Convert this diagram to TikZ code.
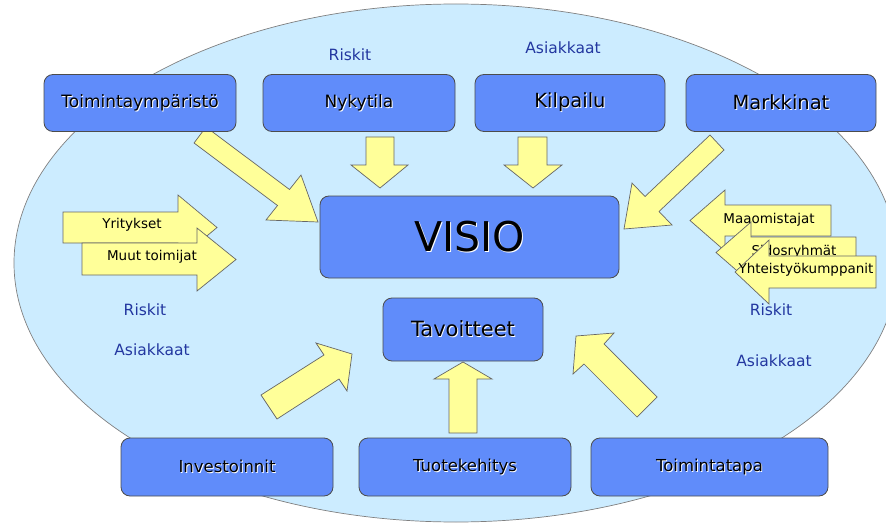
\documentclass[tikz,border=0pt]{standalone}
\usepackage{fontspec}
\setmainfont{DejaVu Sans}
\definecolor{boxblue}{RGB}{96,140,250}
\definecolor{skyfill}{RGB}{204,236,255}
\definecolor{pale}{RGB}{255,255,153}
\definecolor{labelblue}{RGB}{35,55,160}
% black text with a faint white offset copy behind it
\newcommand\haloed[1]{\makebox[0pt][l]{\hspace{0.9pt}\raisebox{-0.9pt}{\color{white}#1}}#1}
\begin{document}
\begin{tikzpicture}[x=1pt,y=-1pt,
  box/.style={draw=black!70, line width=0.8pt, fill=boxblue, rounded corners=9pt, inner sep=0pt},
  fat/.style={draw=black!60, line width=0.7pt, fill=pale, line join=miter},
  lbl/.style={text=labelblue, font=\fontsize{15.5}{18}\selectfont},
  tag/.style={font=\fontsize{13.5}{16}\selectfont, inner sep=0pt}]
\useasboundingbox (0,0) rectangle (886,524);
\begin{scope}
\clip (0,0) rectangle (886,524);
% background ellipse
\draw[draw=black!50, line width=0.7pt, fill=skyfill] (456,263) ellipse [x radius=442, y radius=259];

% broad yellow arrows
\draw[fat] (366,137) -- (394,137) -- (394,165) -- (408,165) -- (380,188) -- (351,165) -- (366,165) -- cycle;
\draw[fat] (518,137) -- (547,137) -- (547,165) -- (562,165) -- (533,188) -- (504,165) -- (518,165) -- cycle;
\draw[fat] (206,127) -- (289.5,189.5) -- (301,175) -- (318,222) -- (266,220) -- (277.5,205.5) -- (194,143) -- cycle;
\draw[fat] (710,135) -- (724,150) -- (659,211.5) -- (672,225) -- (624,229) -- (632,183) -- (645,196.5) -- cycle;
\draw[fat] (261,395) -- (324,355) -- (316,343) -- (352,354) -- (347,391) -- (339,379) -- (277,419) -- cycle;
\draw[fat] (576,336) -- (614,333) -- (604,344) -- (657,397) -- (637,417) -- (584,364) -- (573,374) -- cycle;
\draw[fat] (449,433) -- (449,379) -- (434,379) -- (463,362) -- (492,379) -- (477,379) -- (477,433) -- cycle;

% labelled arrows on the left
\draw[fat] (63,212) -- (178,212) -- (178,195) -- (217,227.5) -- (178,260) -- (178,243) -- (63,243) -- cycle;
\node[tag] (yrit) at (132,225) {Yritykset};
\draw[fat] (82,243) -- (197,243) -- (197,228) -- (236,259.5) -- (197,291) -- (197,275) -- (82,275) -- cycle;
\node[tag] (muut) at (152,257) {Muut toimijat};

% labelled arrows on the right
\draw[fat] (831,205) -- (725,205) -- (725,190) -- (690,220.5) -- (725,251) -- (725,236) -- (831,236) -- cycle;
\node[tag] (maao) at (769,220) {Maaomistajat};
\draw[fat] (856,237) -- (751,237) -- (751,222) -- (716,252.5) -- (751,283) -- (751,268) -- (856,268) -- cycle;
\node[tag] (sido) at (794,252) {Sidosryhmät};
\draw[fat] (876,256) -- (769,256) -- (769,240) -- (735,272) -- (769,304) -- (769,288) -- (876,288) -- cycle;
\node[tag] (yhte) at (806,270) {Yhteistyökumppanit};

% boxes
\node[box, minimum width=192pt, minimum height=57pt, font=\fontsize{17}{20}\selectfont] (env) at (140,103) {\haloed{Toimintaympäristö}};
\node[box, minimum width=192pt, minimum height=57pt, font=\fontsize{17}{20}\selectfont] (nyky) at (359,103) {\haloed{Nykytila}};
\node[box, minimum width=190pt, minimum height=57pt, font=\fontsize{19.5}{22}\selectfont] (kilp) at (570,103) {\haloed{Kilpailu}};
\node[box, minimum width=190pt, minimum height=57pt, font=\fontsize{19.5}{22}\selectfont] (mark) at (781,103) {\haloed{Markkinat}};
\node[box, minimum width=299pt, minimum height=82pt, font=\fontsize{41}{46}\selectfont] (visio) at (469.5,237) {\haloed{VISIO}};
\node[box, minimum width=160pt, minimum height=63pt, font=\fontsize{21}{24}\selectfont] (tavo) at (463,329.5) {\haloed{Tavoitteet}};
\node[box, minimum width=212pt, minimum height=58pt, font=\fontsize{16.5}{19}\selectfont] (inv) at (227,467) {\haloed{Investoinnit}};
\node[box, minimum width=212pt, minimum height=58pt, font=\fontsize{16.5}{19}\selectfont] (tuot) at (465,467) {\haloed{Tuotekehitys}};
\node[box, minimum width=237pt, minimum height=58pt, font=\fontsize{16.5}{19}\selectfont] (tapa) at (709.5,467) {\haloed{Toimintatapa}};

% blue notes
\node[lbl] (r1) at (350,55) {Riskit};
\node[lbl] (a1) at (563,48) {Asiakkaat};
\node[lbl] (r2) at (145,310) {Riskit};
\node[lbl] (a2) at (152,350) {Asiakkaat};
\node[lbl] (r3) at (771,310) {Riskit};
\node[lbl] (a3) at (774,361) {Asiakkaat};
\end{scope}
\end{tikzpicture}
\end{document}
